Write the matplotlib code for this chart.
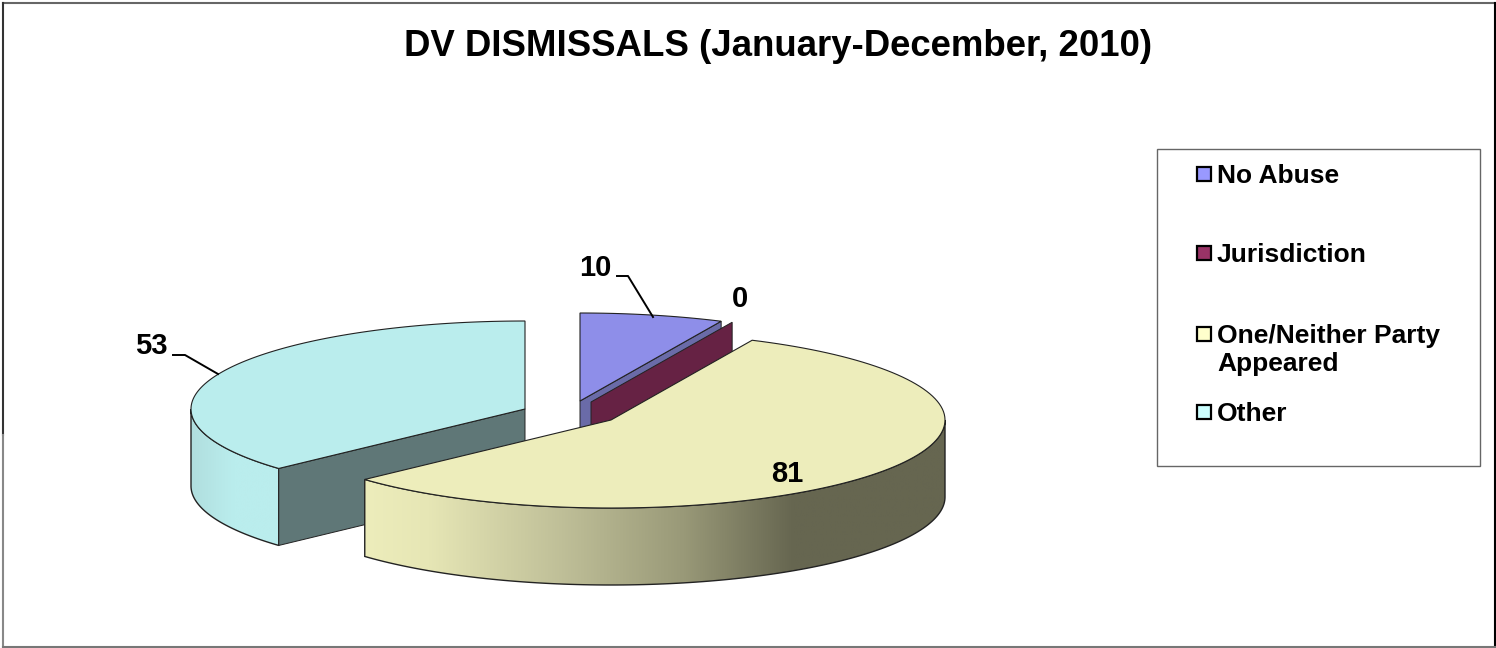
import numpy as np
import matplotlib
matplotlib.use("Agg")
import matplotlib.pyplot as plt
from matplotlib.colors import LinearSegmentedColormap
from matplotlib.patches import Polygon, Rectangle

plt.rcParams['font.family'] = ['Liberation Sans', 'DejaVu Sans']

categories = ["No Abuse", "Jurisdiction", "One/Neither Party\nAppeared", "Other"]
values = [10, 0, 81, 53]
title = "DV DISMISSALS (January-December, 2010)"

legend_colors = ['#9999FF', '#993366', '#FFFFCC', '#CCFFFF']
top_colors = ['#8E8EE9', '#8E3060', '#EDEDBB', '#BAEDED']
cut_colors = ['#6A6BA8', '#662244', '#EDEDBB', '#5F7777']

# centre of each exploded slice, in pixels
centers = [(580, 401), (591, 402), (611, 420), (525, 409)]
a, b = 334, 88  # ellipse radii
depth = 77

edges = np.cumsum([0] + values) / sum(values) * 360


def rim(cx, cy, t0, t1, dy=0):
    # clockwise from 12 o'clock
    t = np.radians(np.linspace(t0, t1, 120))
    return np.column_stack([cx + a * np.sin(t), cy - b * np.cos(t) + dy])


def wall(ax, i, t0, t1, cmap, extent, z):
    cx, cy = centers[i]
    pts = np.vstack([rim(cx, cy, t0, t1), rim(cx, cy, t1, t0, depth)])
    poly = Polygon(pts, closed=True, facecolor='none', edgecolor='#222222', lw=1.0, zorder=z + 0.1)
    ax.add_patch(poly)
    im = ax.imshow(np.linspace(0, 1, 256).reshape(1, -1), cmap=cmap, extent=extent,
                   aspect='auto', zorder=z)
    im.set_clip_path(poly)


def cut_face(ax, i, t, color, z):
    cx, cy = centers[i]
    p = rim(cx, cy, t, t)[0]
    pts = [(cx, cy), tuple(p), (p[0], p[1] + depth), (cx, cy + depth)]
    ax.add_patch(Polygon(pts, closed=True, facecolor=color, edgecolor='#222222', lw=0.7, zorder=z))


def top_face(ax, i, t0, t1, z):
    cx, cy = centers[i]
    pts = np.vstack([[(cx, cy)], rim(cx, cy, t0, t1)])
    ax.add_patch(Polygon(pts, closed=True, facecolor=top_colors[i], edgecolor='#222222', lw=0.8, zorder=z))


fig = plt.figure(figsize=(14.96, 6.48), dpi=100)
ax = fig.add_axes([0, 0, 1, 1])

# frame, the sides are not all the same grey
ax.plot([3.5, 1495], [2.5, 2.5], color='#666666', lw=1.5, zorder=1)
ax.plot([3.5, 3.5], [2.5, 435], color='#333333', lw=1.5, zorder=1)
ax.plot([3.5, 3.5], [435, 647], color='#888888', lw=1.5, zorder=1)
ax.plot([1495, 1495], [2.5, 647], color='black', lw=1.5, zorder=1)
ax.plot([3.5, 1495], [647, 647], color='#777777', lw=1.5, zorder=1)

yellow_wall = LinearSegmentedColormap.from_list(
    'y', [(0, '#EDEDBB'), (0.11, '#E6E6B5'), (0.34, '#BFBF98'), (0.55, '#999978'), (0.74, '#666650'), (1, '#666650')])
cyan_wall = LinearSegmentedColormap.from_list('c', ['#B0DEDE', '#BAEDED', '#BAEDED'])

# Other slice
wall(ax, 3, edges[3], 270, cyan_wall, (190, 278, 560, 300), 2)
cut_face(ax, 3, edges[3], cut_colors[3], 5)
top_face(ax, 3, edges[3], edges[4], 6)

# No Abuse and the empty Jurisdiction slice
cut_face(ax, 0, edges[1], cut_colors[0], 7)
top_face(ax, 0, edges[0], edges[1], 8)
cut_face(ax, 1, edges[2], cut_colors[1], 9)

# One/Neither Party slice in front
wall(ax, 2, 90, edges[3], yellow_wall, (364, 945, 600, 300), 10)
top_face(ax, 2, edges[2], edges[3], 11)

# leader lines
ax.plot([617, 628, 653], [276, 276, 317], color='black', lw=1.4, zorder=12)
ax.plot([173, 185, 218], [355, 355, 374], color='black', lw=1.4, zorder=12)

# data labels
label_pos = [(595, 268), (740, 299), (787, 474), (151, 346)]
for v, (x, y) in zip(values, label_pos):
    ax.text(x, y, str(v), fontsize=21, fontweight='bold', ha='center', va='center', zorder=13)

ax.text(778, 46, title, fontsize=26.4, fontweight='bold', ha='center', va='center')

# legend
ax.add_patch(Rectangle((1157, 149), 323, 317, facecolor='white', edgecolor='#666666', lw=1, zorder=1))
legend_y = [174, 253, 334, 412]
for name, col, y in zip(categories, legend_colors, legend_y):
    ax.add_patch(Rectangle((1197, y - 7), 14, 14, facecolor=col, edgecolor='black', lw=1.6, zorder=2))
    ax.text(1217, y - 10, name, fontsize=19, fontweight='bold', ha='left', va='top', linespacing=1.2, zorder=2)

ax.set_xlim(0, 1496)
ax.set_ylim(648, 0)
ax.axis('off')

fig.savefig('out.png', dpi=100)
